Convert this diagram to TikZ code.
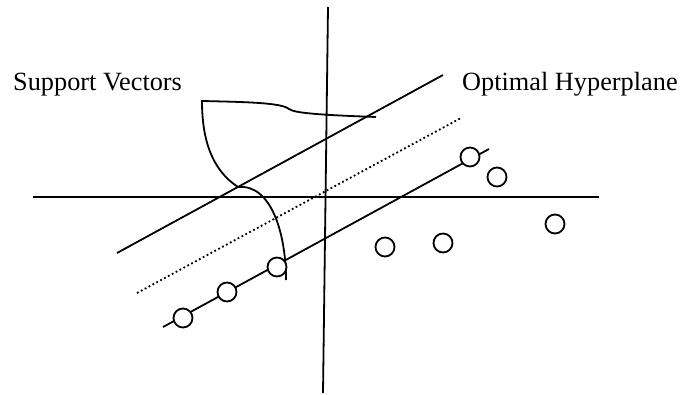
\documentclass[tikz,border=0pt]{standalone}
\usepackage{fontspec}
\setmainfont{Liberation Serif}
\begin{document}
\begin{tikzpicture}[x=1pt,y=-1pt,
  ln/.style={line width=1.8pt},
  dotln/.style={line width=1.8pt, dash pattern=on 1.8pt off 2.6pt},
  pt/.style={circle, draw, line width=1.8pt, fill=white, minimum size=19pt, inner sep=0pt},
  lbl/.style={anchor=base west, inner sep=0pt, font=\fontsize{26.3}{30}\selectfont}]
\useasboundingbox (0,0) rectangle (694,394);
% axes
\coordinate (vt) at (328,7);
\coordinate (vb) at (323,393);
\coordinate (hl) at (33,197);
\coordinate (hr) at (599,197);
\draw[ln] (vt) -- (vb);
\draw[ln] (hl) -- (hr);
% upper margin line
\coordinate (u1) at (117,253);
\coordinate (u2) at (443,75);
\draw[ln] (u1) -- (u2);
% optimal hyperplane (dotted)
\coordinate (d1) at (137,293);
\coordinate (d2) at (461,118);
\draw[dotln] (d1) -- (d2);
% lower margin line
\coordinate (l1) at (163,327);
\coordinate (l2) at (489,149);
\draw[ln] (l1) -- (l2);
% support vectors bracket
\coordinate (b0) at (202,101);
\coordinate (b1) at (289,109);
\coordinate (b2) at (376,117);
\coordinate (b3) at (238,187);
\coordinate (b4) at (286,280);
\draw[ln] (b3) .. controls (212,170) and (202,140) .. (b0)
  .. controls (250,102) and (282,103) .. (b1)
  .. controls (294,113) and (320,115) .. (b2);
\draw[ln] (b3) .. controls (272,184) and (286,235) .. (b4);
% points
\node[pt] (p1) at (183,318) {};
\node[pt] (p2) at (227,292) {};
\node[pt] (p3) at (277,267) {};
\node[pt] (p4) at (470,157) {};
\node[pt] (p5) at (497,177) {};
\node[pt] (p6) at (555,224) {};
\node[pt] (p7) at (385,247) {};
\node[pt] (p8) at (443,243) {};
% labels
\node[lbl] (sv) at (13,90) {Support Vectors};
\node[lbl] (oh) at (462,90) {Optimal Hyperplane};
\end{tikzpicture}
\end{document}
